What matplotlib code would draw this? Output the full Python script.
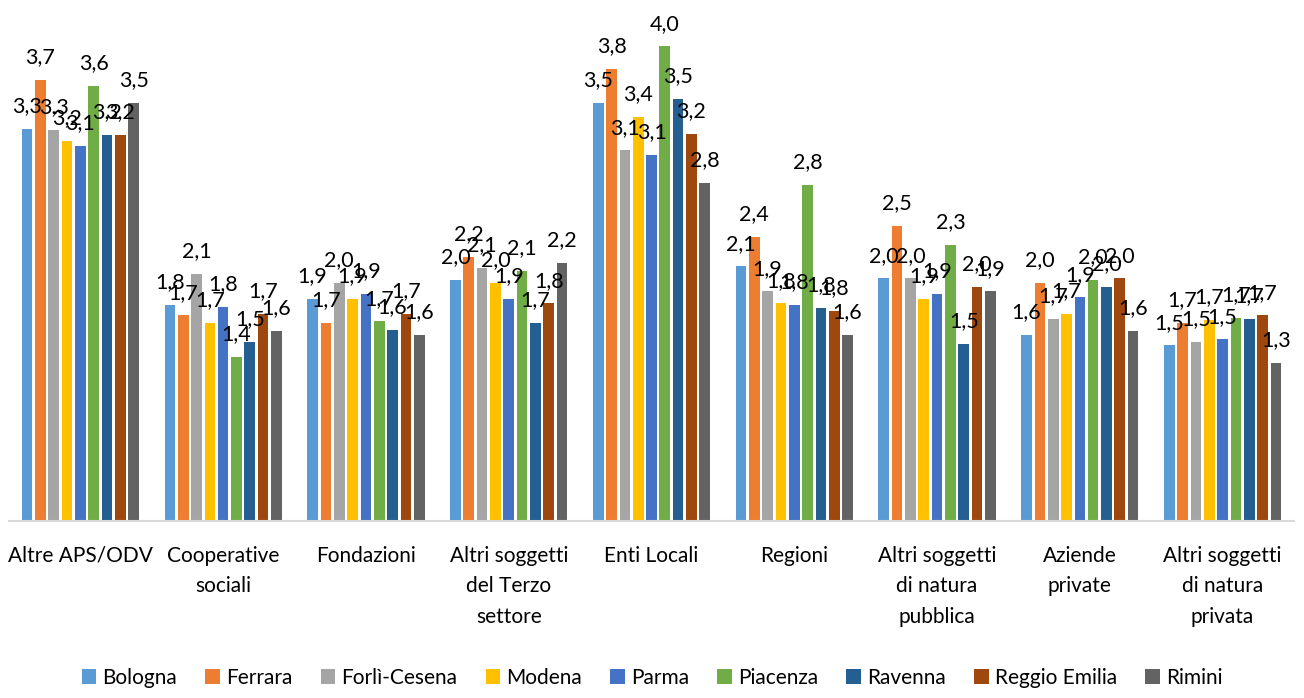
import numpy as np
import matplotlib.pyplot as plt

categories = [
    "Altre APS/ODV",
    "Cooperative\nsociali",
    "Fondazioni",
    "Altri soggetti\ndel Terzo\nsettore",
    "Enti Locali",
    "Regioni",
    "Altri soggetti\ndi natura\npubblica",
    "Aziende\nprivate",
    "Altri soggetti\ndi natura\nprivata",
]

provinces = ["Bologna", "Ferrara", "Forlì-Cesena", "Modena", "Parma",
             "Piacenza", "Ravenna", "Reggio Emilia", "Rimini"]

bologna = [3.28, 1.81, 1.86, 2.02, 3.50, 2.13, 2.03, 1.56, 1.47]
ferrara = [3.69, 1.72, 1.66, 2.21, 3.78, 2.38, 2.47, 1.99, 1.66]
forli_cesena = [3.27, 2.07, 1.99, 2.12, 3.10, 1.92, 2.03, 1.69, 1.50]
modena = [3.18, 1.66, 1.86, 1.99, 3.38, 1.82, 1.86, 1.73, 1.68]
parma = [3.14, 1.79, 1.90, 1.86, 3.06, 1.81, 1.90, 1.87, 1.52]
piacenza = [3.64, 1.37, 1.67, 2.09, 3.97, 2.81, 2.31, 2.02, 1.70]
ravenna = [3.23, 1.50, 1.60, 1.66, 3.53, 1.78, 1.48, 1.96, 1.69]
reggio_emilia = [3.23, 1.73, 1.73, 1.82, 3.24, 1.76, 1.96, 2.03, 1.72]
rimini = [3.50, 1.59, 1.56, 2.16, 2.83, 1.56, 1.92, 1.59, 1.32]

series = [bologna, ferrara, forli_cesena, modena, parma,
          piacenza, ravenna, reggio_emilia, rimini]

colors = ["#5B9BD5", "#ED7D31", "#A5A5A5", "#FFC000", "#4472C4",
          "#70AD47", "#255E91", "#9E480E", "#636363"]

plt.rcParams["font.family"] = ["Lato", "DejaVu Sans"]

fig = plt.figure(figsize=(13.04, 6.98), dpi=100)
ax = fig.add_axes([9 / 1304, 177 / 698, 1285 / 1304, 514 / 698])

x = np.arange(len(categories))
slot = 0.84 / len(series)

for i, (name, values, color) in enumerate(zip(provinces, series, colors)):
    pos = x - 0.42 + slot * (i + 0.5)
    bars = ax.bar(pos, values, width=slot * 0.8, color=color, label=name)
    for b, v in zip(bars, values):
        ax.annotate(f"{v:.1f}".replace(".", ","),
                    (b.get_x() + b.get_width() / 2, v),
                    xytext=(0, 12), textcoords="offset points",
                    ha="center", va="baseline", fontsize=15.5, color="black")

ax.set_xlim(-0.5, len(categories) - 0.5)
ax.set_ylim(0, 4.3)
ax.set_yticks([])
ax.set_xticks(x)
ax.set_xticklabels(categories, fontsize=15, linespacing=1.65)
ax.tick_params(axis="x", length=0, pad=18)

for side in ["top", "left", "right"]:
    ax.spines[side].set_visible(False)
ax.spines["bottom"].set_color("#D9D9D9")
ax.spines["bottom"].set_linewidth(1.5)

fig.legend(loc="lower center", bbox_to_anchor=(0.5, -0.012), ncol=9,
           frameon=False, fontsize=15, handlelength=0.7, handleheight=0.7,
           handletextpad=0.3, columnspacing=1.35)

fig.savefig("out.png", dpi=100)
